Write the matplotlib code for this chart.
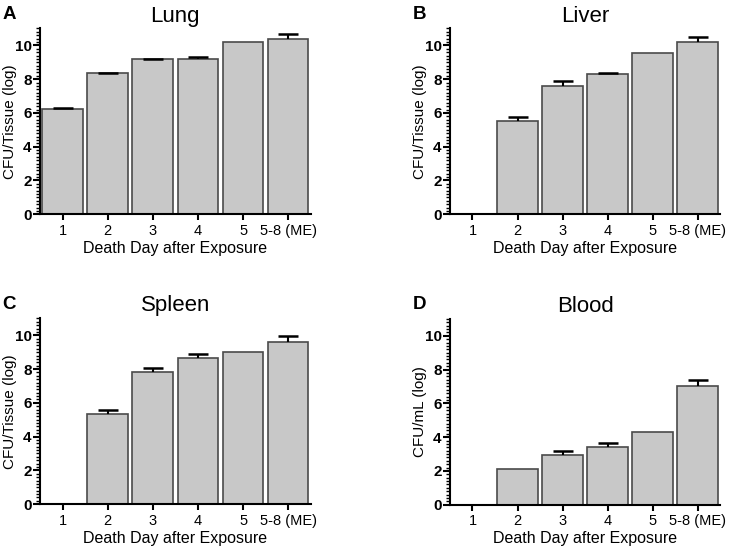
import matplotlib
matplotlib.use('Agg')
import matplotlib.pyplot as plt
from matplotlib.ticker import MultipleLocator
import numpy as np

plt.rcParams['font.family'] = ['Liberation Sans', 'DejaVu Sans']

days = ['1', '2', '3', '4', '5', '5-8 (ME)']

lung = [6.26, 8.34, 9.17, 9.21, 10.18, 10.39]
lung_err = [0.03, 0.03, 0.03, 0.11, np.nan, 0.26]

liver = [0, 5.55, 7.59, 8.28, 9.52, 10.22]
liver_err = [np.nan, 0.22, 0.29, 0.10, np.nan, 0.29]

spleen = [0, 5.35, 7.82, 8.67, 9.03, 9.62]
spleen_err = [np.nan, 0.23, 0.26, 0.24, np.nan, 0.32]

blood = [0, 2.10, 2.92, 3.39, 4.29, 7.02]
blood_err = [np.nan, np.nan, 0.27, 0.26, np.nan, 0.34]

panels = [
    ('A', 'Lung', lung, lung_err, 'CFU/Tissue (log)'),
    ('B', 'Liver', liver, liver_err, 'CFU/Tissue (log)'),
    ('C', 'Spleen', spleen, spleen_err, 'CFU/Tissue (log)'),
    ('D', 'Blood', blood, blood_err, 'CFU/mL (log)'),
]

# axes rectangles in figure fractions
rects = [
    [0.0535, 0.609, 0.3625, 0.339],
    [0.6024, 0.609, 0.3615, 0.339],
    [0.0535, 0.080, 0.3625, 0.339],
    [0.6024, 0.079, 0.3615, 0.339],
]

fig = plt.figure(figsize=(7.47, 5.48), dpi=100)

for (letter, title, vals, errs, ylab), r in zip(panels, rects):
    ax = fig.add_axes(r)
    x = np.arange(len(days))
    vals = np.array(vals)
    errs = np.array(errs)
    ax.bar(x, vals, width=0.9, color='#c8c8c8', edgecolor='#4a4a4a', linewidth=1.2, zorder=2)

    # upper error bars only (no cap at the bar top)
    ok = ~np.isnan(errs)
    _, caps, _ = ax.errorbar(x[ok], vals[ok], yerr=[np.zeros(ok.sum()), errs[ok]], fmt='none',
                             ecolor='black', elinewidth=1.5, capsize=7.5, capthick=1.8, zorder=3)
    caps[0].set_visible(False)

    ax.set_xlim(-0.5, 5.5)
    ax.set_ylim(0, 11)
    ax.yaxis.set_major_locator(MultipleLocator(2))
    ax.yaxis.set_minor_locator(MultipleLocator(0.2))
    ax.set_xticks(x)
    ax.set_xticklabels(days, fontsize=10.5)
    for lbl in ax.get_yticklabels():
        lbl.set_fontweight('bold')
        lbl.set_fontsize(11)
    ax.tick_params(axis='y', which='major', length=5, width=1.5, pad=1)
    ax.tick_params(axis='y', which='minor', length=3, width=1)
    ax.tick_params(axis='x', length=4, width=1.5, pad=3)
    for s in ['top', 'right']:
        ax.spines[s].set_visible(False)
    for s in ['left', 'bottom']:
        ax.spines[s].set_linewidth(1.5)
    ax.set_xlabel('Death Day after Exposure', fontsize=11.5, labelpad=2)
    ax.set_ylabel(ylab, fontsize=11)
    ax.yaxis.set_label_coords(-0.085, 0.5)
    ax.set_title(title, fontsize=16, pad=5)
    fig.text(r[0] - 0.050, r[1] + r[3] + 0.010, letter, fontsize=13.5, fontweight='bold',
             ha='left', va='bottom')

fig.savefig('out.png', dpi=100)
